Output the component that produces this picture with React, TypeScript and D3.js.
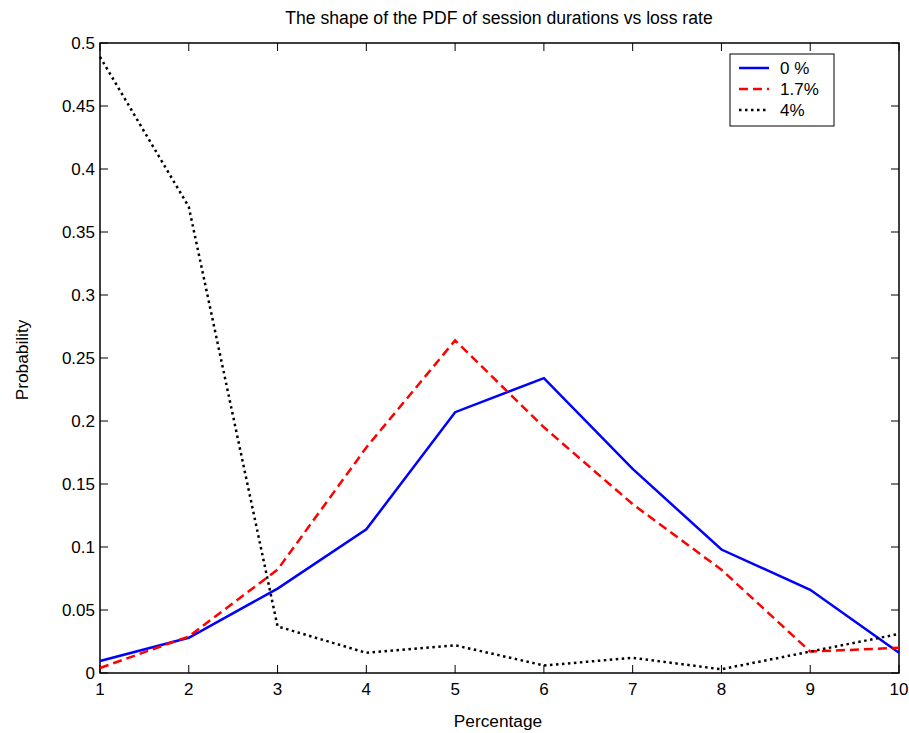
import React from "react";
import * as d3 from "d3";

const xValues = [1, 2, 3, 4, 5, 6, 7, 8, 9, 10];
const loss0 = [0.0095, 0.028, 0.067, 0.114, 0.207, 0.234, 0.162, 0.098, 0.066, 0.016];
const loss17 = [0.004, 0.029, 0.082, 0.179, 0.264, 0.195, 0.134, 0.082, 0.017, 0.02];
const loss4 = [0.489, 0.37, 0.037, 0.016, 0.022, 0.006, 0.012, 0.003, 0.017, 0.031];
const seriesNames = ["0 %", "1.7%", "4%"];
const xTicks = [1, 2, 3, 4, 5, 6, 7, 8, 9, 10];
const yTicks = [0, 0.05, 0.1, 0.15, 0.2, 0.25, 0.3, 0.35, 0.4, 0.45, 0.5];

export default function App() {
  const W = 909, H = 733;
  const L = 100, R = 899, T = 43, B = 673;
  const x = d3.scaleLinear().domain([1, 10]).range([L, R]);
  const y = d3.scaleLinear().domain([0, 0.5]).range([B, T]);
  const line = d3.line<number>().x((_, i) => x(xValues[i])).y((d) => y(d));
  const series = [
    { name: seriesNames[0], data: loss0, color: "#0000ff", dash: "none" },
    { name: seriesNames[1], data: loss17, color: "#ff0000", dash: "9,5" },
    { name: seriesNames[2], data: loss4, color: "#000000", dash: "2.5,3.5" },
  ];
  const font = "'Liberation Sans', Arial, sans-serif";
  const fmt = (v: number) => (v === 0 ? "0" : String(+v.toFixed(2)));
  return (
    <svg width={W} height={H} style={{ position: "absolute", left: 0, top: 0, background: "#fff" }} fontFamily={font}>
      <rect x={0} y={0} width={W} height={H} fill="#fff" />
      <text x={499} y={24} textAnchor="middle" fontSize={17.6} fill="#000">
        The shape of the PDF of session durations vs loss rate
      </text>
      {xTicks.map((t) => (
        <g key={"x" + t}>
          <line x1={x(t)} x2={x(t)} y1={B} y2={B - 8} stroke="#000" strokeWidth={1} />
          <line x1={x(t)} x2={x(t)} y1={T} y2={T + 8} stroke="#000" strokeWidth={1} />
          <text x={x(t)} y={B + 22} textAnchor="middle" fontSize={17} fill="#000">{t}</text>
        </g>
      ))}
      {yTicks.map((t) => (
        <g key={"y" + t}>
          <line x1={L} x2={L + 8} y1={y(t)} y2={y(t)} stroke="#000" strokeWidth={1} />
          <line x1={R} x2={R - 8} y1={y(t)} y2={y(t)} stroke="#000" strokeWidth={1} />
          <text x={L - 5} y={y(t) + 6} textAnchor="end" fontSize={17} fill="#000">{fmt(t)}</text>
        </g>
      ))}
      <rect x={L} y={T} width={R - L} height={B - T} fill="none" stroke="#000" strokeWidth={1.5} />
      {series.map((s) => (
        <path key={s.name} d={line(s.data) || ""} fill="none" stroke={s.color} strokeWidth={2.5} strokeDasharray={s.dash} />
      ))}
      <text x={498} y={727} textAnchor="middle" fontSize={17.3} fill="#000">Percentage</text>
      <text transform="translate(28,360) rotate(-90)" textAnchor="middle" fontSize={17.3} fill="#000">Probability</text>
      <g>
        <rect x={730} y={54} width={104} height={72} fill="#fff" stroke="#000" strokeWidth={1} />
        {series.map((s, i) => (
          <g key={"lg" + s.name}>
            <line x1={739} x2={769} y1={68 + i * 21} y2={68 + i * 21} stroke={s.color} strokeWidth={2.5} strokeDasharray={s.dash} />
            <text x={780} y={74 + i * 21} fontSize={17} fill="#000">{s.name}</text>
          </g>
        ))}
      </g>
    </svg>
  );
}
